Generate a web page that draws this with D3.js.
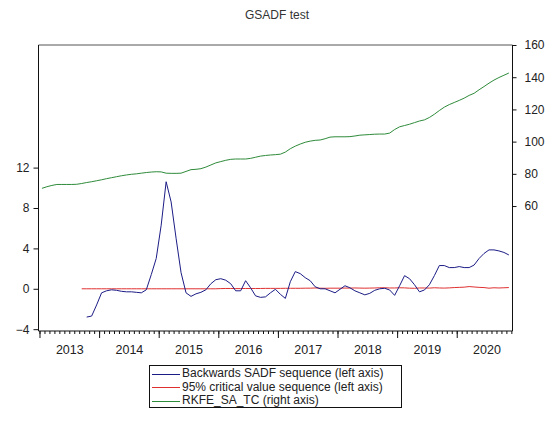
<!DOCTYPE html>
<html><head><meta charset="utf-8">
<script src="https://cdn.jsdelivr.net/npm/d3@7"></script>
<style>body{margin:0;background:#fff}svg{display:block}text{font-family:"Liberation Sans",Arial,sans-serif;fill:#222}</style>
</head><body><svg id="c" width="555" height="430"></svg>
<script>
// Monthly observations 2013M01 .. 2020M11 (index 0..94)
const startYear = 2013;
const nObs = 95;
const years = [2013,2014,2015,2016,2017,2018,2019,2020];
const leftTicks = [-4,0,4,8,12];
const rightTicks = [60,80,100,120,140,160];

// Backwards SADF sequence (starts at index 9 = 2013M10)
const sadfStart = 9;
const sadf = [-2.8,-2.7,-1.6,-0.4,-0.2,-0.1,-0.15,-0.25,-0.3,-0.3,-0.35,-0.4,-0.1,1.4,3.0,6.3,10.6,8.6,5.0,1.6,
-0.4,-0.75,-0.5,-0.35,-0.1,0.5,0.9,1.0,0.85,0.5,-0.2,-0.2,0.8,0.1,-0.7,-0.85,-0.8,-0.4,-0.05,-0.55,
-0.95,0.7,1.7,1.5,1.1,0.8,0.2,0.0,0.0,-0.2,-0.4,-0.05,0.3,0.1,-0.2,-0.4,-0.6,-0.45,-0.15,0.0,
0.05,-0.12,-0.65,0.3,1.3,1.0,0.4,-0.3,-0.12,0.4,1.3,2.3,2.3,2.1,2.1,2.2,2.1,2.1,2.35,3.0,
3.5,3.85,3.85,3.75,3.6,3.35];

// 95% critical value sequence (starts at index 8 = 2013M09)
const cvStart = 8;
const cv = [0,0,0,0,0,0,0,0,0,0,0,0,0,0,0,0,0,0,0,0,
0,0,0,0,0,0,0,0,0.02,0.03,0.03,0.02,0.02,0.03,0.03,0.03,0.03,0.04,0.04,0.04,
0.04,0.05,0.05,0.05,0.05,0.06,0.06,0.08,0.06,0.05,0.06,0.06,0.06,0.07,0.07,0.08,0.07,0.06,0.07,0.08,
0.1,0.1,0.08,0.08,0.1,0.09,0.06,0.05,0.08,0.08,0.07,0.1,0.08,0.07,0.09,0.12,0.14,0.16,0.22,0.18,
0.14,0.12,0.06,0.1,0.08,0.1,0.12];

// RKFE_SA_TC (right axis), index 0..94
const rkfe = [71.0,72.0,72.8,73.4,73.4,73.4,73.4,73.5,74.0,74.6,75.1,75.7,76.3,77.0,77.6,78.2,78.8,79.3,79.7,80.0,
80.4,80.8,81.1,81.3,81.2,80.4,80.3,80.3,80.4,81.5,82.6,82.8,83.2,84.2,85.5,86.8,87.6,88.4,89.0,89.2,
89.2,89.2,89.6,90.3,91.0,91.4,91.7,91.9,92.2,93.5,95.6,97.2,98.5,99.6,100.3,100.8,101.0,101.8,102.8,103.0,
103.0,103.0,103.1,103.5,104.0,104.2,104.4,104.6,104.7,104.7,105.3,107.5,109.2,110.0,110.8,111.8,112.8,113.5,115.0,117.0,
119.3,121.4,123.0,124.3,125.6,127.0,128.7,130.0,132.2,134.2,136.3,138.2,139.8,141.2,142.6];

const seriesNames = ["Backwards SADF sequence (left axis)","95% critical value sequence (left axis)","RKFE_SA_TC (right axis)"];
const colors = ["#1c1c86","#e03030","#2e8b3a"];

const L=38.5, R=512.5, T=45, B=331;
const svg = d3.select("#c");
const x = d3.scaleLinear().domain([-0.7, 94.73]).range([L, R]);
const yL = d3.scaleLinear().domain([-4.18, 24.14]).range([B, T]);
const yR = d3.scaleLinear().domain([-17.6, 160]).range([B, T]);

svg.append("text").attr("x",277).attr("y",19).attr("text-anchor","middle").style("font-size","12px").style("fill","#333").text("GSADF test");

// frame
svg.append("line").attr("x1",L).attr("x2",R).attr("y1",T).attr("y2",T).attr("stroke","#555");
svg.append("line").attr("x1",L).attr("x2",L).attr("y1",T).attr("y2",B).attr("stroke","#111");
svg.append("line").attr("x1",R).attr("x2",R).attr("y1",T).attr("y2",B).attr("stroke","#111");
svg.append("line").attr("x1",L).attr("x2",R).attr("y1",B).attr("y2",B).attr("stroke","#111");

// x axis: minor month ticks, major year ticks, year labels
const monthTicks = d3.range(0, 96).map(m => m - 0.5);
const yearTicks = years.map((yr,k) => k*12 - 0.5);
const gxMinor = svg.append("g").attr("transform",`translate(0,${B})`)
  .call(d3.axisBottom(x).tickValues(monthTicks).tickSize(3).tickFormat(""));
const gxMajor = svg.append("g").attr("transform",`translate(0,${B})`)
  .call(d3.axisBottom(x).tickValues(yearTicks).tickSize(7).tickFormat(""));
const gxLab = svg.append("g").attr("transform",`translate(0,${B})`)
  .call(d3.axisBottom(x).tickValues(years.map((yr,k)=>k*12+5.5)).tickSize(0).tickPadding(14).tickFormat((d,i)=>years[i]));
[gxMinor,gxMajor,gxLab].forEach(g=>{g.select(".domain").remove();g.selectAll("line").attr("stroke","#111");g.selectAll("text").style("font-size","12.5px").style("fill","#222").style("font-family","'Liberation Sans',Arial,sans-serif");});

const gyL = svg.append("g").attr("transform",`translate(${L},0)`)
  .call(d3.axisLeft(yL).tickValues(leftTicks).tickSize(5).tickPadding(4));
const gyR = svg.append("g").attr("transform",`translate(${R},0)`)
  .call(d3.axisRight(yR).tickValues(rightTicks).tickSize(4).tickPadding(8));
[gyL,gyR].forEach(g=>{g.select(".domain").remove();g.selectAll("line").attr("stroke","#111");g.selectAll("text").style("font-size","12px").style("fill","#222").style("font-family","'Liberation Sans',Arial,sans-serif");});

const lineL = d3.line().x(d=>x(d[0])).y(d=>yL(d[1]));
const lineR = d3.line().x(d=>x(d[0])).y(d=>yR(d[1]));
svg.append("path").datum(rkfe.map((v,i)=>[i,v])).attr("d",lineR).attr("fill","none").attr("stroke",colors[2]).attr("stroke-width",1);
svg.append("path").datum(cv.map((v,i)=>[i+cvStart,v])).attr("d",lineL).attr("fill","none").attr("stroke",colors[1]).attr("stroke-width",1);
svg.append("path").datum(sadf.map((v,i)=>[i+sadfStart,v])).attr("d",lineL).attr("fill","none").attr("stroke",colors[0]).attr("stroke-width",1);

// legend
const lg = svg.append("g");
lg.append("rect").attr("x",149.5).attr("y",365.5).attr("width",252).attr("height",42).attr("fill","#fff").attr("stroke","#111");
seriesNames.forEach((n,i)=>{
  const yy = 373.5 + i*13.5;
  lg.append("line").attr("x1",152).attr("x2",180).attr("y1",Math.round(yy)+0.5).attr("y2",Math.round(yy)+0.5).attr("stroke",colors[i]);
  lg.append("text").attr("x",182).attr("y",Math.floor(yy)+3.7).style("font-size","12px").text(n);
});
</script></body></html>
